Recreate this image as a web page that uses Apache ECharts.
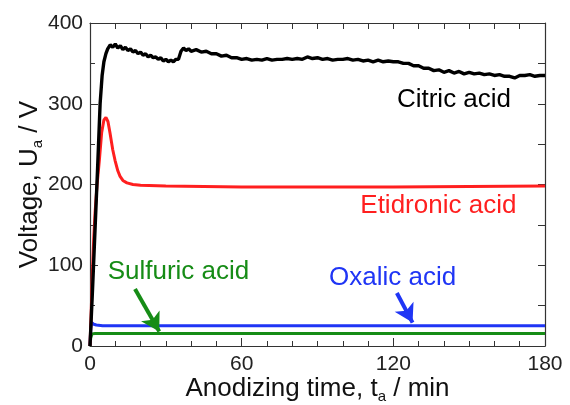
<!DOCTYPE html>
<html>
<head>
<meta charset="utf-8">
<script src="https://cdn.jsdelivr.net/npm/echarts@6/dist/echarts.min.js"></script>
<style>
  html, body { margin: 0; padding: 0; background: #fff; }
  #main { width: 570px; height: 405px; }
</style>
</head>
<body>
<div id="main"></div>
<script>
// time in min, voltage in V
var citricTime = [0, 1, 2, 3, 4, 4.8, 5.5, 6.3, 7, 8, 9, 10, 11, 12, 13, 14, 15, 16, 17, 18, 19, 20,
  21, 22, 23, 24, 25, 26, 27, 28, 29, 30, 31, 32, 33, 34, 35, 36, 37, 38, 39, 40,
  42, 44, 46, 48, 50, 52, 54, 56, 58, 60, 62, 64, 66, 68, 70, 72, 74, 76, 78, 80,
  82, 84, 86, 88, 90, 92, 94, 96, 98, 100, 102, 104, 106, 108, 110, 112, 114, 116, 118, 120,
  122, 124, 126, 128, 130, 132, 134, 136, 138, 140, 142, 144, 146, 148, 150, 152, 154, 156, 158, 160,
  162, 164, 166, 168, 170, 172, 174, 176, 178, 180];
var citricVolt = [0, 70, 145, 220, 300, 335, 352, 362, 368, 373, 370, 374, 369, 372, 367, 370, 366, 368, 364, 366, 362, 364,
  360, 362, 358, 360, 357, 358, 355, 357, 353, 355, 352, 354, 352, 355, 355, 365, 369, 366, 368, 365,
  367, 364, 365, 362, 362, 359, 360, 357, 357, 355, 356, 354, 355, 354, 356, 354, 355, 355, 356, 355,
  356, 355, 358, 356, 357, 355, 356, 354, 355, 355, 356, 354, 355, 353, 354, 352, 354, 352, 353, 352,
  352, 350, 350, 347, 347, 344, 344, 341, 342, 339, 341, 338, 340, 337, 339, 337, 338, 336, 337, 335,
  336, 334, 334, 332, 335, 335, 336, 334, 335, 335];

var etidTime = [0, 0.5, 1, 1.5, 2, 2.8, 3.7, 4.6, 5.5, 6.3, 7.1, 7.9, 9, 9.9, 11, 11.9, 13, 14.6, 17, 20, 30, 60, 90, 120, 150, 180];
var etidVolt = [0, 45, 95, 135, 165, 200, 230, 264, 280, 283, 278, 264, 243, 230, 217, 210, 205, 202, 200, 199, 198, 197, 197, 197, 197.5, 198];

var oxalTime = [0, 0.3, 0.6, 1, 1.5, 2.5, 5, 180];
var oxalVolt = [0, 22, 29, 30, 27, 26, 25, 25];

var sulfTime = [0, 0.3, 0.8, 2, 180];
var sulfVolt = [0, 10, 15, 15.5, 15.5];

var xTicks = [0, 60, 120, 180];
var yTicks = [0, 100, 200, 300, 400];

function pairs(t, v) {
  return t.map(function (x, i) { return [x, v[i]]; });
}

var chart = echarts.init(document.getElementById('main'), null, { renderer: 'canvas' });

var axisCol = '#333';
var font = 'Liberation Sans, Arial, Helvetica, sans-serif';

function note(text, coord, color) {
  return {
    symbol: 'circle',
    symbolSize: 0,
    silent: true,
    label: { show: true, position: 'inside', fontSize: 26, fontFamily: font, color: color, formatter: text },
    data: [{ coord: coord }]
  };
}

function arrow(from, to, color) {
  return {
    silent: true,
    symbol: ['none', 'arrow'],
    symbolSize: [16, 18],
    label: { show: false },
    lineStyle: { color: color, width: 4, type: 'solid' },
    emphasis: { disabled: true },
    data: [[{ coord: from }, { coord: to }]]
  };
}

var option = {
  animation: false,
  backgroundColor: '#ffffff',
  grid: { left: 90, right: 25, top: 23, bottom: 59, outerBoundsMode: 'none', containLabel: false },
  xAxis: [
    {
      type: 'value',
      min: xTicks[0],
      max: xTicks[xTicks.length - 1],
      interval: 60,
      position: 'bottom',
      axisLine: { onZero: false, lineStyle: { color: axisCol, width: 1.2 } },
      axisTick: { show: true, inside: true, length: 8, lineStyle: { color: axisCol } },
      minorTick: { show: true, splitNumber: 6, length: 5, lineStyle: { color: axisCol } },
      splitLine: { show: false },
      axisLabel: { fontSize: 21, color: '#222', fontFamily: font, margin: 8 },
      name: 'Anodizing time, t{s|a} / min',
      nameLocation: 'middle',
      nameGap: 28,
      nameMoveOverlap: false,
      nameTextStyle: {
        fontSize: 26, color: '#111', fontFamily: font, lineHeight: 30,
        rich: { s: { fontSize: 15, lineHeight: 15, verticalAlign: 'bottom', color: '#111', fontFamily: font } }
      }
    },
    {
      type: 'value',
      min: 0,
      max: 180,
      interval: 10,
      position: 'top',
      axisLine: { show: true, onZero: false, lineStyle: { color: axisCol, width: 1.2 } },
      axisTick: { show: true, inside: true, length: 6, lineStyle: { color: axisCol } },
      splitLine: { show: false },
      axisLabel: { show: false }
    }
  ],
  yAxis: [
    {
      type: 'value',
      min: yTicks[0],
      max: yTicks[yTicks.length - 1],
      interval: 100,
      position: 'left',
      axisLine: { show: true, onZero: false, lineStyle: { color: axisCol, width: 1.2 } },
      axisTick: { show: true, inside: true, length: 8, lineStyle: { color: axisCol } },
      minorTick: { show: true, splitNumber: 2, length: 5, lineStyle: { color: axisCol } },
      splitLine: { show: false },
      axisLabel: { fontSize: 21, color: '#222', fontFamily: font, margin: 7 },
      name: 'Voltage, U{s|a} / V',
      nameLocation: 'middle',
      nameRotate: 90,
      nameGap: 45,
      nameMoveOverlap: false,
      nameTextStyle: {
        fontSize: 26, color: '#111', fontFamily: font, lineHeight: 30,
        rich: { s: { fontSize: 15, lineHeight: 15, verticalAlign: 'bottom', color: '#111', fontFamily: font } }
      }
    },
    {
      type: 'value',
      min: 0,
      max: 400,
      interval: 50,
      position: 'right',
      axisLine: { show: true, onZero: false, lineStyle: { color: axisCol, width: 1.2 } },
      axisTick: { show: true, inside: true, length: 7, lineStyle: { color: axisCol } },
      splitLine: { show: false },
      axisLabel: { show: false }
    }
  ],
  series: [
    {
      name: 'Sulfuric acid',
      type: 'line',
      showSymbol: false,
      data: pairs(sulfTime, sulfVolt),
      lineStyle: { color: '#168c16', width: 3 },
      itemStyle: { color: '#168c16' },
      markPoint: note('Sulfuric acid', [35, 92], '#168c16'),
      markLine: arrow([17.8, 70.5], [27.4, 18], '#168c16')
    },
    {
      name: 'Oxalic acid',
      type: 'line',
      showSymbol: false,
      data: pairs(oxalTime, oxalVolt),
      lineStyle: { color: '#1f35f5', width: 3 },
      itemStyle: { color: '#1f35f5' },
      markPoint: note('Oxalic acid', [119.7, 84], '#1f35f5'),
      markLine: arrow([121.4, 65.6], [127.6, 29], '#1f35f5')
    },
    {
      name: 'Etidronic acid',
      type: 'line',
      showSymbol: false,
      data: pairs(etidTime, etidVolt),
      lineStyle: { color: '#ff1f1f', width: 3 },
      itemStyle: { color: '#ff1f1f' },
      markPoint: note('Etidronic acid', [137.8, 173], '#ff1f1f')
    },
    {
      name: 'Citric acid',
      type: 'line',
      showSymbol: false,
      data: pairs(citricTime, citricVolt),
      lineStyle: { color: '#000000', width: 3.4 },
      itemStyle: { color: '#000000' },
      markPoint: note('Citric acid', [144, 304.5], '#000000')
    }
  ]
};

chart.setOption(option);
</script>
</body>
</html>
